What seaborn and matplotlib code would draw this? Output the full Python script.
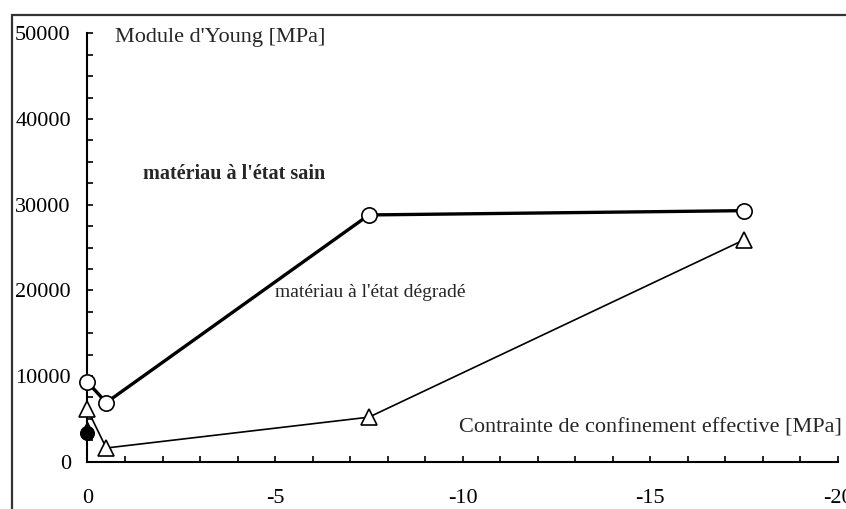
import numpy as np
import pandas as pd
import matplotlib.pyplot as plt
import seaborn as sns
from matplotlib.patches import Rectangle
from matplotlib.ticker import MultipleLocator

sns.set_style("ticks")
plt.rcParams['font.family'] = ['Liberation Serif', 'DejaVu Serif']

# Data
confinement = [0, -0.5, -7.5, -17.5]
young_sain = [9300, 6900, 28800, 29300]
young_degrade = [6100, 1600, 5200, 25900]
single_x = [0]
single_circle = [3300]
single_triangle = [3900]

df = pd.DataFrame({"conf": confinement, "sain": young_sain, "degrade": young_degrade})

fig, ax = plt.subplots(figsize=(8.46, 5.09), dpi=100)
fig.subplots_adjust(left=0.1034, right=0.9905, bottom=0.0929, top=0.9346)

sns.lineplot(data=df, x="conf", y="sain", sort=False, ax=ax, color="black",
             linewidth=2.4, marker="o", markersize=11, markerfacecolor="white",
             markeredgecolor="black", markeredgewidth=1.2, clip_on=False, zorder=3)
sns.lineplot(data=df, x="conf", y="degrade", sort=False, ax=ax, color="black",
             linewidth=1.2, marker="^", markersize=11.5, markerfacecolor="white",
             markeredgecolor="black", markeredgewidth=1.2, clip_on=False, zorder=3)
sns.scatterplot(x=single_x, y=single_triangle, marker="^", s=90, color="black",
                edgecolor="black", ax=ax, clip_on=False, zorder=4)
sns.scatterplot(x=single_x, y=single_circle, marker="o", s=100, color="black",
                edgecolor="black", ax=ax, clip_on=False, zorder=4)

ax.set_xlim(0, -20)
ax.set_ylim(0, 50000)
ax.xaxis.set_major_locator(MultipleLocator(5))
ax.xaxis.set_minor_locator(MultipleLocator(1))
ax.yaxis.set_major_locator(MultipleLocator(10000))
ax.yaxis.set_minor_locator(MultipleLocator(2500))
ax.set_xticklabels([f"{int(v)}" for v in ax.get_xticks()])

for side in ["top", "right"]:
    ax.spines[side].set_visible(False)
for side in ["left", "bottom"]:
    ax.spines[side].set_linewidth(1.5)
    ax.spines[side].set_color("black")

ax.tick_params(axis="both", which="both", direction="in", length=4.5, width=1.2,
               color="black", labelsize=16, labelcolor="black")
ax.tick_params(axis="y", which="major", pad=12)
ax.tick_params(axis="x", which="major", pad=20)
ax.set_xlabel("")
ax.set_ylabel("")

ax.text(-0.73, 49500, "Module d'Young [MPa]", fontsize=16, va="center", ha="left")
ax.text(-1.48, 33600, "matériau à l'état sain", fontsize=14.5, fontweight="bold",
        va="center", ha="left")
ax.text(-5.0, 19700, "matériau à l'état dégradé", fontsize=14, va="center", ha="left")
ax.text(-20.1, 3950, "Contrainte de confinement effective [MPa]", fontsize=16,
        va="center", ha="right")

# outer frame, cut off at right and bottom like the reference
fig.add_artist(Rectangle((12 / 846, -0.2), 2, 1 - 15 / 509 + 0.2,
                         transform=fig.transFigure, fill=False,
                         edgecolor="#333333", linewidth=1.6))

fig.savefig("out.png", dpi=100)
